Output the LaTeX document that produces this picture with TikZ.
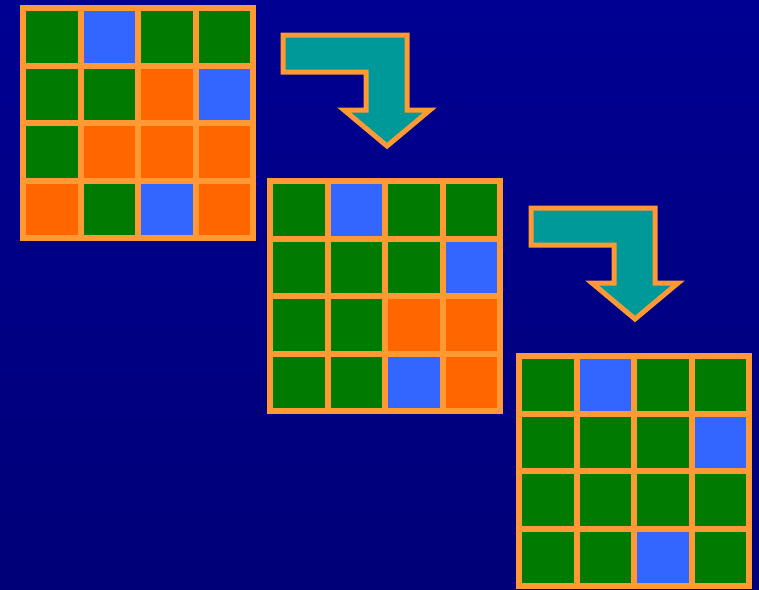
\documentclass[tikz,border=0pt]{standalone}
\definecolor{bgtop}{RGB}{0,0,146}
\definecolor{bgbot}{RGB}{0,0,120}
\definecolor{cg}{RGB}{0,122,0}
\definecolor{cb}{RGB}{51,102,255}
\definecolor{co}{RGB}{255,102,0}
\definecolor{edgeorange}{RGB}{255,153,51}
\definecolor{arrowfill}{RGB}{0,153,153}
\tikzset{
  cellbox/.style={draw=edgeorange, line width=6, line join=miter},
  bentarrow/.style={fill=arrowfill, draw=edgeorange, line width=5, line join=miter}
}
\newcommand\drawcellgrid[3]{%
  \foreach \c [count=\i from 0] in {#3} {
    \pgfmathtruncatemacro\col{mod(\i,4)}
    \pgfmathtruncatemacro\row{div(\i,4)}
    \filldraw[cellbox, fill=c\c] ({#1+\col*57.5},{#2+\row*57.5}) rectangle +(57.5,57.5);
  }%
}
\begin{document}
\begin{tikzpicture}[x=1pt,y=-1pt]
\useasboundingbox (0,0) rectangle (759,589);
\shade[top color=bgtop,bottom color=bgbot] (0,0) rectangle (759,589);
\drawcellgrid{23}{8}{g,b,g,g,g,g,o,b,g,o,o,o,o,g,b,o}
\drawcellgrid{270}{181}{g,b,g,g,g,g,g,b,g,g,o,o,g,g,b,o}
\drawcellgrid{519}{356}{g,b,g,g,g,g,g,b,g,g,g,g,g,g,b,g}
\filldraw[bentarrow] (283,35) -- (407,35) -- (407,110) -- (430,110) -- (387,146) -- (344,110) -- (366,110) -- (366,72) -- (283,72) -- cycle;
\begin{scope}[shift={(248,173)}]
\filldraw[bentarrow] (283,35) -- (407,35) -- (407,110) -- (430,110) -- (387,146) -- (344,110) -- (366,110) -- (366,72) -- (283,72) -- cycle;
\end{scope}
\end{tikzpicture}
\end{document}
